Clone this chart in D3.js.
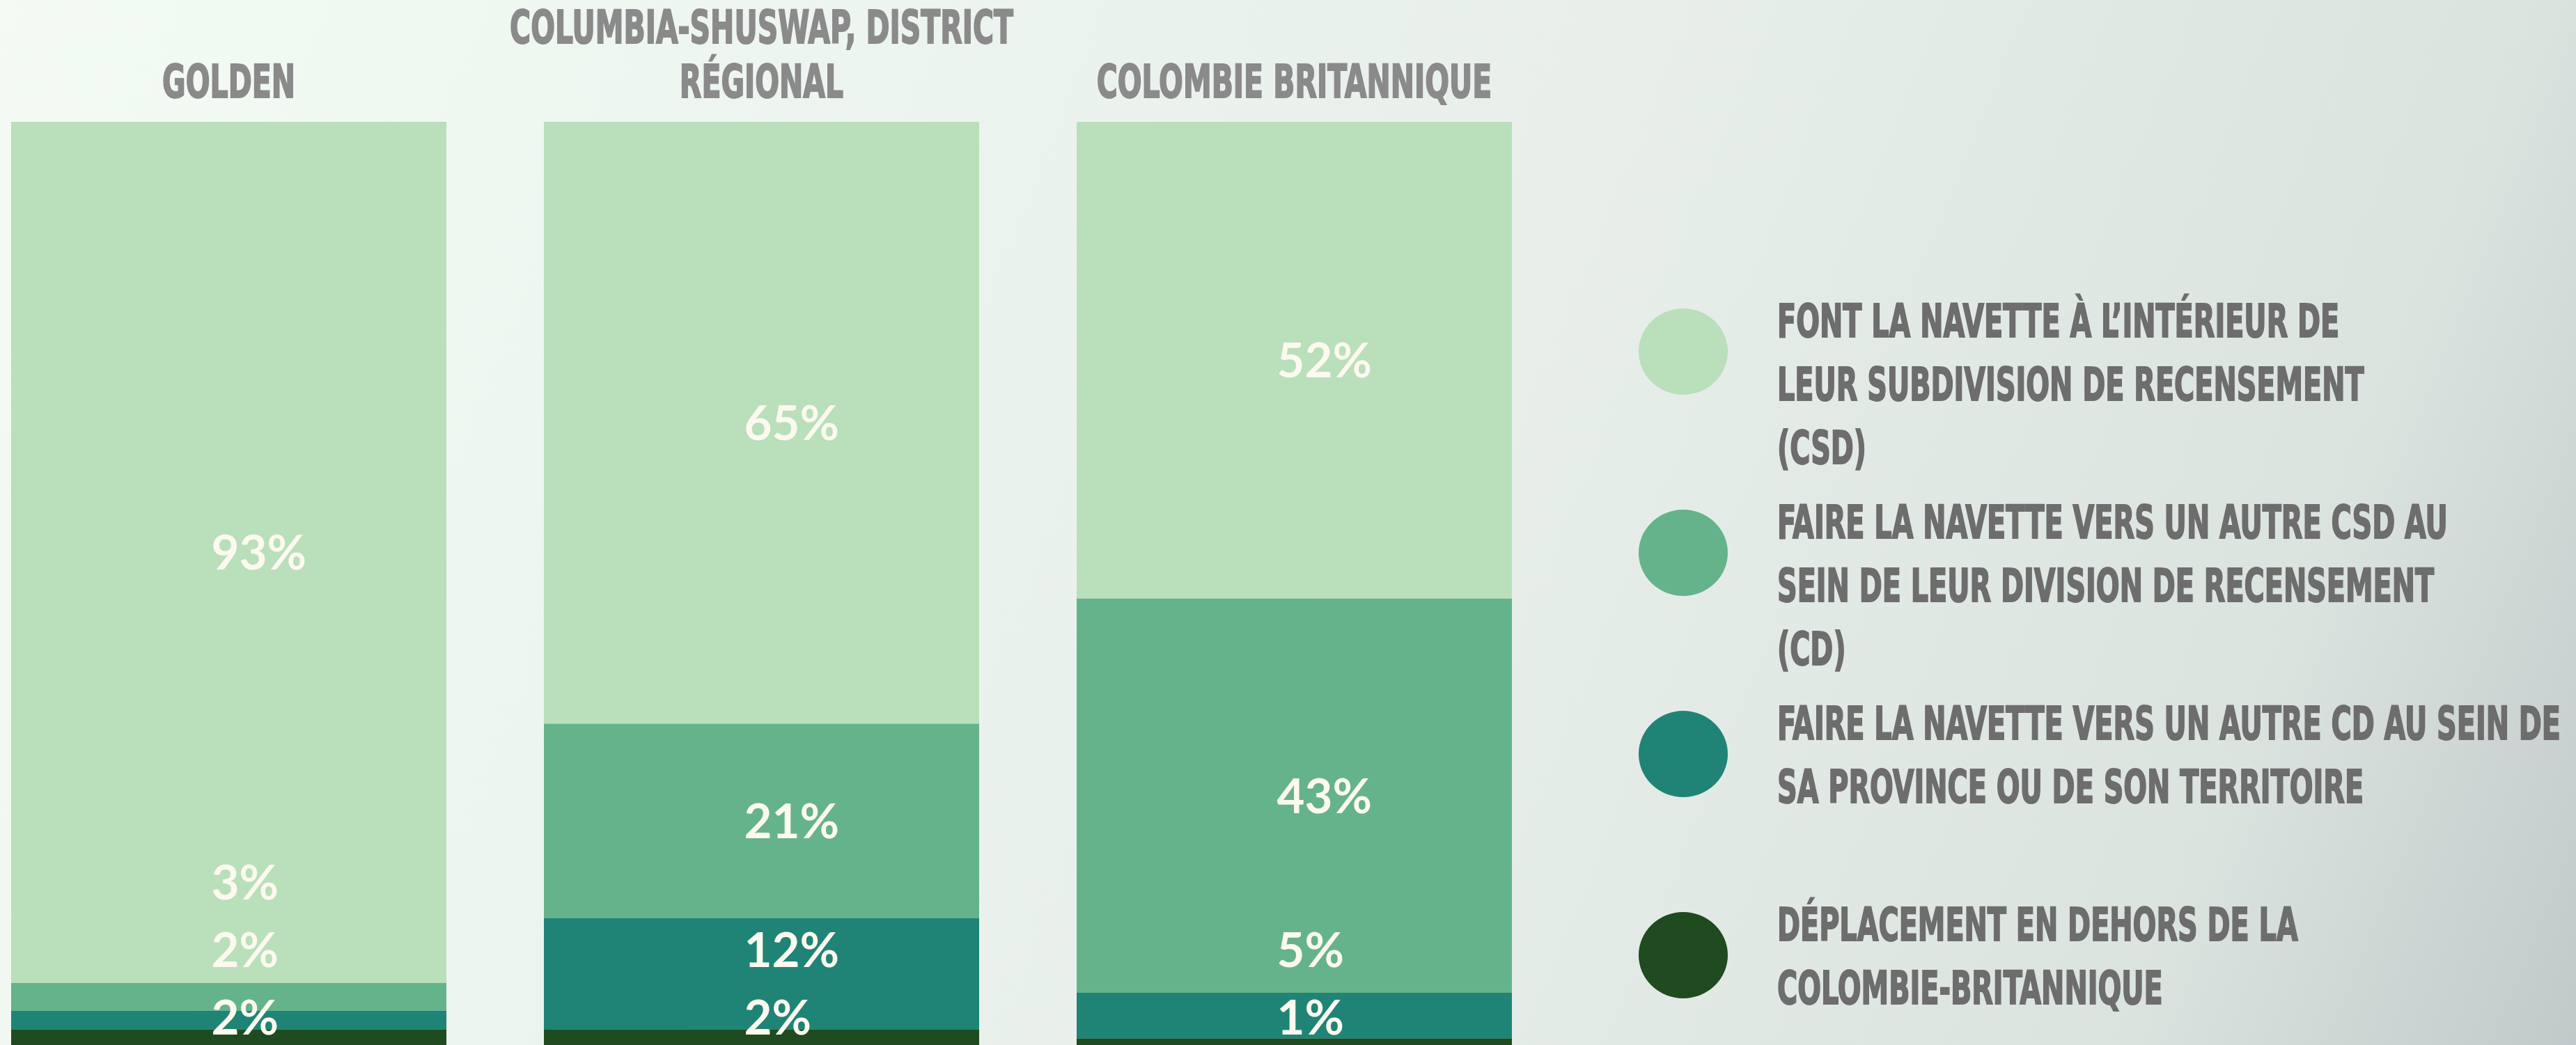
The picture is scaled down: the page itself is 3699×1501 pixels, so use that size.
<!DOCTYPE html>
<html>
<head>
<meta charset="utf-8">
<script src="https://cdn.jsdelivr.net/npm/d3@7"></script>
<style>
  html, body { margin: 0; padding: 0; overflow: hidden; }
  svg { display: block; }
</style>
</head>
<body>
<svg id="chart"></svg>
<script>
// data
const categories = ["golden", "shuswap", "cb"];
const titleLines = [["GOLDEN"], ["COLUMBIA-SHUSWAP, DISTRICT", "RÉGIONAL"], ["COLOMBIE BRITANNIQUE"]];
const withinCSD = [93, 65, 52];
const otherCSD = [3, 21, 43];
const otherCD = [2, 12, 5];
const outsideProvince = [2, 2, 1];

const seriesKeys = ["withinCSD", "otherCSD", "otherCD", "outsideProvince"];
const seriesColors = ["#b9dfbb", "#65b38b", "#1f8475", "#204a20"];
const legendLines = [
  ["FONT LA NAVETTE À L’INTÉRIEUR DE", "LEUR SUBDIVISION DE RECENSEMENT", "(CSD)"],
  ["FAIRE LA NAVETTE VERS UN AUTRE CSD AU", "SEIN DE LEUR DIVISION DE RECENSEMENT", "(CD)"],
  ["FAIRE LA NAVETTE VERS UN AUTRE CD AU SEIN DE", "SA PROVINCE OU DE SON TERRITOIRE"],
  ["DÉPLACEMENT EN DEHORS DE LA", "COLOMBIE-BRITANNIQUE"]
];

const W = 3699, H = 1501;
const condensed = "'DejaVu Sans Condensed', 'Liberation Sans', sans-serif";
const titleSqueeze = 0.69, legendSqueeze = 0.67;

const rows = categories.map((c, i) => ({
  cat: c,
  withinCSD: withinCSD[i],
  otherCSD: otherCSD[i],
  otherCD: otherCD[i],
  outsideProvince: outsideProvince[i]
}));

const svg = d3.select("#chart").attr("width", W).attr("height", H);

// background wash
const defs = svg.append("defs");
const grad = defs.append("linearGradient")
  .attr("id", "bg").attr("gradientUnits", "userSpaceOnUse")
  .attr("x1", 0).attr("y1", 0).attr("x2", W).attr("y2", H);
[[0, "#f3fbf4"], [0.55, "#e8efeb"], [0.85, "#dbe3df"], [1, "#c2c9ca"]]
  .forEach(s => grad.append("stop").attr("offset", s[0]).attr("stop-color", s[1]));
svg.append("rect").attr("width", W).attr("height", H).attr("fill", "url(#bg)");

const x = d3.scaleBand().domain(categories).range([16, 2171]).paddingInner(0.183);
const y = d3.scaleLinear().domain([0, 1]).range([175, 1505]);
const color = d3.scaleOrdinal().domain(seriesKeys).range(seriesColors);

// stacked from the top down, each column normalised to 100 %
const stacked = d3.stack().keys(seriesKeys).offset(d3.stackOffsetExpand)(rows);

const layer = svg.append("g").selectAll("g")
  .data(stacked)
  .join("g")
    .attr("fill", d => color(d.key));

layer.selectAll("rect")
  .data(d => d)
  .join("rect")
    .attr("x", d => x(d.data.cat))
    .attr("width", x.bandwidth())
    .attr("y", d => y(d[0]))
    .attr("height", d => y(d[1]) - y(d[0]));

// value labels: centred on segment, pushed up from the bottom so they don't collide
const labelGap = 97;
const bottomCap = y(1) - 44;
const labels = [];
rows.forEach(r => {
  let prev = bottomCap + labelGap;
  seriesKeys.slice().reverse().forEach(k => {
    const seg = stacked[seriesKeys.indexOf(k)].find(s => s.data.cat === r.cat);
    const mid = (y(seg[0]) + y(seg[1])) / 2;
    const pos = Math.min(mid, prev - labelGap);
    prev = pos;
    labels.push({ cat: r.cat, value: r[k], pos });
  });
});

svg.append("g").selectAll("text")
  .data(labels)
  .join("text")
    .attr("x", d => x(d.cat) + x.bandwidth() * 0.46)
    .attr("y", d => d.pos)
    .attr("dy", "0.36em")
    .attr("fill", "#fcf9ef")
    .attr("font-family", "Lato, 'Open Sans', sans-serif")
    .attr("font-weight", 700)
    .attr("font-size", 69)
    .text(d => d.value + "%");

// column titles
const titles = svg.append("g").selectAll("g")
  .data(categories)
  .join("g")
    .attr("transform", d => `translate(${x(d) + x.bandwidth() / 2},140) scale(${titleSqueeze},1)`);

titles.selectAll("text")
  .data((d, i) => titleLines[i].map((t, j, a) => ({ t, off: (j - a.length + 1) * 78 })))
  .join("text")
    .attr("y", d => d.off)
    .attr("text-anchor", "middle")
    .attr("fill", "#8a8a8a")
    .attr("stroke", "#8a8a8a")
    .attr("stroke-width", 2)
    .attr("font-family", condensed)
    .attr("font-weight", 700)
    .attr("font-size", 66)
    .text(d => d.t);

// legend
const ly = d3.scalePoint().domain(seriesKeys).range([484, 484 + 289 * 3]);
const item = svg.append("g").selectAll("g")
  .data(seriesKeys)
  .join("g")
    .attr("transform", d => `translate(0,${ly(d)})`);

item.append("ellipse")
  .attr("cx", 2417)
  .attr("cy", 21)
  .attr("rx", 64)
  .attr("ry", 62)
  .attr("fill", d => color(d));

item.append("g")
    .attr("transform", `translate(2552,0) scale(${legendSqueeze},1)`)
  .selectAll("text")
  .data((d, i) => legendLines[i])
  .join("text")
    .attr("y", (d, j) => j * 91)
    .attr("fill", "#6d6d6d")
    .attr("stroke", "#6d6d6d")
    .attr("stroke-width", 2)
    .attr("font-family", condensed)
    .attr("font-weight", 700)
    .attr("font-size", 66)
    .text(d => d);
</script>
</body>
</html>
